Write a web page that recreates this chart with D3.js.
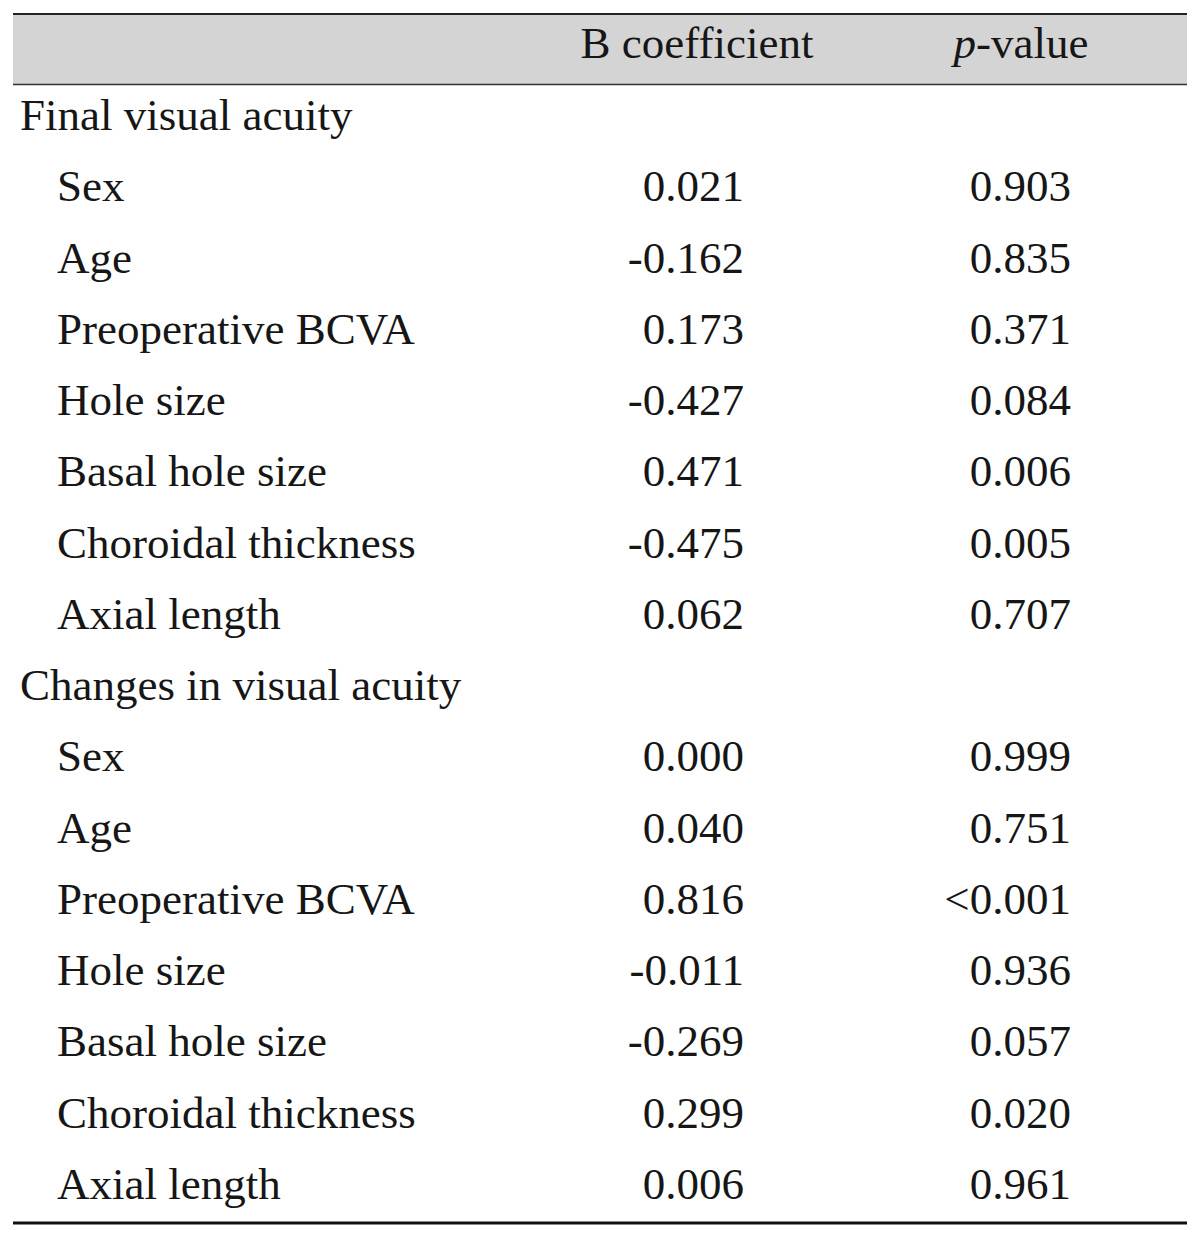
<!DOCTYPE html>
<html>
<head>
<meta charset="utf-8">
<script src="https://cdn.jsdelivr.net/npm/d3@7"></script>
<style>
  body { margin: 0; background: #fff; }
  text { font-family: "Liberation Serif", "Times New Roman", serif; fill: #161616; }
</style>
</head>
<body>
<div id="chart"></div>
<script>
// table contents
var groups = ["Final visual acuity", "Changes in visual acuity"];
var variables = ["Sex", "Age", "Preoperative BCVA", "Hole size", "Basal hole size", "Choroidal thickness", "Axial length"];
var bFinal = ["0.021", "-0.162", "0.173", "-0.427", "0.471", "-0.475", "0.062"];
var pFinal = ["0.903", "0.835", "0.371", "0.084", "0.006", "0.005", "0.707"];
var bChange = ["0.000", "0.040", "0.816", "-0.011", "-0.269", "0.299", "0.006"];
var pChange = ["0.999", "0.751", "<0.001", "0.936", "0.057", "0.020", "0.961"];

var width = 1200, height = 1237;
var left = 13, right = 1187;
var fontSize = 45;

// flatten into rows
var rows = [];
[[bFinal, pFinal], [bChange, pChange]].forEach(function (vals, g) {
    rows.push({label: groups[g], group: true});
    variables.forEach(function (v, i) {
        rows.push({label: v, b: vals[0][i], p: vals[1][i]});
    });
});

var svg = d3.select("#chart")
    .append("svg")
    .attr("width", width)
    .attr("height", height);

// header band
svg.append("rect")
    .attr("x", left).attr("y", 14)
    .attr("width", right - left).attr("height", 70)
    .attr("fill", "#d4d4d4");

svg.append("line")
    .attr("x1", left).attr("x2", right)
    .attr("y1", 14).attr("y2", 14)
    .attr("stroke", "#222").attr("stroke-width", 2);
svg.append("line")
    .attr("x1", left).attr("x2", right)
    .attr("y1", 84.5).attr("y2", 84.5)
    .attr("stroke", "#333").attr("stroke-width", 1.5);
svg.append("line")
    .attr("x1", left).attr("x2", right)
    .attr("y1", 1223).attr("y2", 1223)
    .attr("stroke", "#111").attr("stroke-width", 3);

svg.append("text")
    .attr("x", 697).attr("y", 58)
    .attr("text-anchor", "middle")
    .attr("font-size", fontSize)
    .text("B coefficient");

var ph = svg.append("text")
    .attr("x", 1021).attr("y", 58)
    .attr("text-anchor", "middle")
    .attr("font-size", fontSize);
ph.append("tspan").attr("font-style", "italic").text("p");
ph.append("tspan").text("-value");

// rows on a band scale, baselines from 130 step ~71.25
var y = d3.scaleBand()
    .domain(d3.range(rows.length))
    .range([94.4, 94.4 + 71.25 * rows.length]);

var row = svg.selectAll("g.row")
    .data(rows)
    .enter()
    .append("g")
    .attr("class", "row")
    .attr("transform", function (d, i) { return "translate(0," + (y(i) + 35.6) + ")"; });

row.append("text")
    .attr("x", function (d) { return d.group ? 20 : 57; })
    .attr("font-size", fontSize)
    .text(function (d) { return d.label; });

row.filter(function (d) { return !d.group; })
    .append("text")
    .attr("x", 744)
    .attr("text-anchor", "end")
    .attr("font-size", fontSize)
    .text(function (d) { return d.b; });

row.filter(function (d) { return !d.group; })
    .append("text")
    .attr("x", 1071)
    .attr("text-anchor", "end")
    .attr("font-size", fontSize)
    .text(function (d) { return d.p; });
</script>
</body>
</html>
